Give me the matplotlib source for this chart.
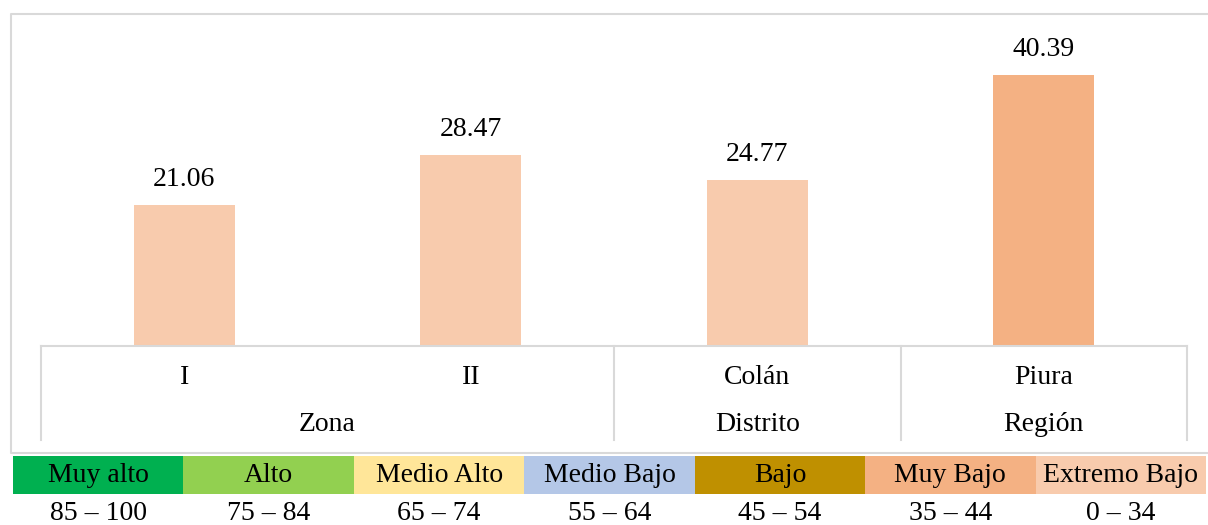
import numpy as np
import matplotlib.pyplot as plt
from matplotlib.lines import Line2D

plt.rcParams['font.family'] = ['Liberation Serif', 'DejaVu Serif']

categories = ['I', 'II', 'Colán', 'Piura']
values = [21.06, 28.47, 24.77, 40.39]
bar_colors = ['#F8CBAD', '#F8CBAD', '#F8CBAD', '#F4B183']
groups = ['Zona', 'Distrito', 'Región']
group_spans = [(0, 2), (2, 3), (3, 4)]

levels = ['Muy alto', 'Alto', 'Medio Alto', 'Medio Bajo', 'Bajo', 'Muy Bajo', 'Extremo Bajo']
level_ranges = ['85 – 100', '75 – 84', '65 – 74', '55 – 64', '45 – 54', '35 – 44', '0 – 34']
level_colors = ['#00B050', '#92D050', '#FFE699', '#B4C7E7', '#BF9000', '#F4B183', '#F8CBAD']

W, H = 1208, 525
fig = plt.figure(figsize=(W / 100, H / 100), dpi=100)
grid_c = '#D9D9D9'
fs = 20

# outer chart frame (right side runs off the picture)
fx = [W, 11, 11, W]
fy = [14, 14, 453, 453]
fig.lines.append(Line2D([a / W for a in fx], [1 - b / H for b in fy],
                        transform=fig.transFigure, color=grid_c, lw=1.5))

# bars
ax = fig.add_axes([41 / W, (H - 346) / H, 1146 / W, 326 / H])
x = np.arange(len(categories)) + 0.5
ax.bar(x, values, width=0.353, color=bar_colors)
for xi, v in zip(x, values):
    ax.annotate(f'{v:.2f}', (xi, v), xytext=(0, 9), textcoords='offset points',
                ha='center', va='bottom', fontsize=fs)
ax.set_xlim(0, 4)
ax.set_ylim(0, 326 / 6.71)
ax.axis('off')

# category axis box
cx = fig.add_axes([41 / W, (H - 440) / H, 1146 / W, 94 / H])
cx.set_xlim(0, 4)
cx.set_ylim(0, 1)
cx.axis('off')
cx.plot([0, 4], [1, 1], color=grid_c, lw=1.5, clip_on=False)
for b in [0, 2, 3, 4]:
    cx.plot([b, b], [0, 1], color=grid_c, lw=1.5, clip_on=False)
for xi, c in zip(x, categories):
    cx.text(xi, 0.66, c, ha='center', va='center', fontsize=fs)
for g, (a, b) in zip(groups, group_spans):
    cx.text((a + b) / 2, 0.17, g, ha='center', va='center', fontsize=fs)

# level legend
lx = fig.add_axes([13 / W, 0, 1193 / W, 69 / H])
lx.set_xlim(0, 7)
lx.set_ylim(0, 69)
lx.axis('off')
pos = np.arange(len(levels)) + 0.5
lx.bar(pos, 38, width=1, bottom=31, color=level_colors)
for p, name, rng in zip(pos, levels, level_ranges):
    lx.text(p, 50, name, ha='center', va='center', fontsize=fs)
    lx.text(p, 12, rng, ha='center', va='center', fontsize=fs)

fig.savefig('out.png', dpi=100)
